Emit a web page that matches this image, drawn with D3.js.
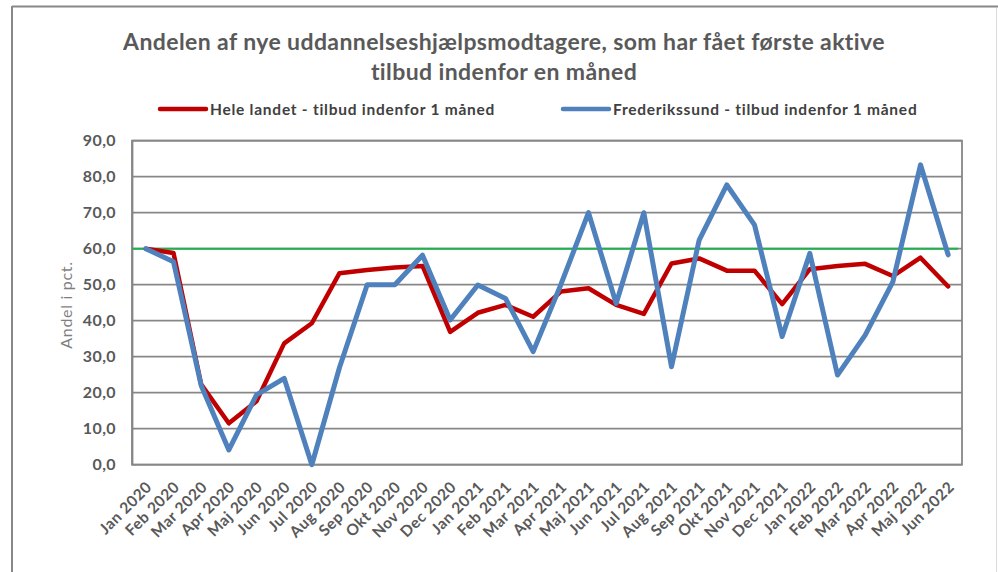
<!DOCTYPE html>
<html>
<head>
<meta charset="utf-8">
<script src="https://cdn.jsdelivr.net/npm/d3@7"></script>
<style>
  html, body { margin: 0; padding: 0; background: #fff; }
  svg { display: block; }
</style>
</head>
<body>
<svg id="chart" width="998" height="572"></svg>
<script>
const categories = ["Jan 2020","Feb 2020","Mar 2020","Apr 2020","Maj 2020","Jun 2020","Jul 2020","Aug 2020","Sep 2020","Okt 2020","Nov 2020","Dec 2020",
  "Jan 2021","Feb 2021","Mar 2021","Apr 2021","Maj 2021","Jun 2021","Jul 2021","Aug 2021","Sep 2021","Okt 2021","Nov 2021","Dec 2021",
  "Jan 2022","Feb 2022","Mar 2022","Apr 2022","Maj 2022","Jun 2022"];
const heleLandet = [60.0, 58.8, 22.3, 11.5, 17.6, 33.7, 39.3, 53.2, 54.1, 54.8, 55.2, 36.9,
  42.2, 44.4, 41.1, 48.1, 49.0, 44.4, 41.9, 55.9, 57.3, 53.9, 53.9, 44.6,
  54.3, 55.2, 55.8, 52.4, 57.5, 49.5];
const frederikssund = [60.0, 56.4, 22.0, 4.1, 19.4, 24.0, 0.0, 27.0, 50.0, 50.0, 58.2, 40.2,
  49.9, 46.2, 31.4, 50.0, 70.0, 44.8, 70.0, 27.2, 62.4, 77.7, 66.6, 35.6,
  58.7, 24.9, 36.0, 50.8, 83.3, 58.3];
const targetValue = 60;
const yTicks = [0, 10, 20, 30, 40, 50, 60, 70, 80, 90];
const titleLines = ["Andelen af nye uddannelseshjælpsmodtagere, som har fået første aktive", "tilbud indenfor en måned"];
const seriesNames = ["Hele landet - tilbud indenfor 1 måned", "Frederikssund - tilbud indenfor 1 måned"];
const yLabel = "Andel i pct.";

(function () {
const svg = d3.select("#chart");
const font = "Lato, 'Open Sans', sans-serif";
const gridColor = "#878787";

// outer frame
svg.append("line").attr("x1", 12).attr("x2", 998).attr("y1", 6.5).attr("y2", 6.5)
  .attr("stroke", "#888").attr("stroke-width", 2);
svg.append("line").attr("x1", 12).attr("x2", 12).attr("y1", 6).attr("y2", 572)
  .attr("stroke", "#888").attr("stroke-width", 2);
svg.append("line").attr("x1", 996.5).attr("x2", 996.5).attr("y1", 8).attr("y2", 572)
  .attr("stroke", "#dcdcdc").attr("stroke-width", 1);

const pLeft = 132, pRight = 962, pTop = 140.7, pBottom = 464.7;

const x = d3.scaleBand().domain(categories).range([pLeft, pRight]).padding(0);
const xc = d => x(d) + x.bandwidth() / 2;
const y = d3.scaleLinear().domain([0, 90]).range([pBottom, pTop]);

// title
const title = svg.append("text").attr("text-anchor", "middle")
  .attr("font-family", font).attr("font-weight", "bold").attr("font-size", 23)
  .attr("letter-spacing", 0.4).attr("fill", "#595959");
title.selectAll("tspan").data(titleLines).join("tspan")
  .attr("x", 504).attr("y", (d, i) => 50 + i * 30).text(d => d);

// legend
const legendItems = [
  { name: seriesNames[0], color: "#c00000", x0: 160 },
  { name: seriesNames[1], color: "#4f81bd", x0: 563 }
];
legendItems.forEach(it => {
  svg.append("line").attr("x1", it.x0).attr("x2", it.x0 + 46).attr("y1", 109).attr("y2", 109)
    .attr("stroke", it.color).attr("stroke-width", 4.5).attr("stroke-linecap", "round");
  svg.append("text").attr("x", it.x0 + 50).attr("y", 114.5)
    .attr("font-family", font).attr("font-weight", "bold").attr("font-size", 15.5)
    .attr("letter-spacing", 0.75).attr("fill", "#404040")
    .text(it.name);
});

// gridlines
svg.append("g").selectAll("line").data(yTicks).join("line")
  .attr("x1", pLeft).attr("x2", pRight)
  .attr("y1", d => y(d)).attr("y2", d => y(d))
  .attr("stroke", gridColor).attr("stroke-width", 1.8);

// y axis
const yAxis = svg.append("g").attr("transform", `translate(${pLeft},0)`)
  .call(d3.axisLeft(y).tickValues(yTicks).tickSize(0).tickPadding(16)
    .tickFormat(d => d3.format(".1f")(d).replace(".", ",")));
yAxis.select(".domain").attr("stroke", gridColor).attr("stroke-width", 1.8);
yAxis.selectAll("text").attr("font-family", font).attr("font-weight", "bold")
  .attr("font-size", 16).attr("letter-spacing", 0.4).attr("fill", "#595959");

// plot border
svg.append("rect").attr("x", pLeft).attr("y", pTop).attr("width", pRight - pLeft).attr("height", pBottom - pTop)
  .attr("fill", "none").attr("stroke", gridColor).attr("stroke-width", 1.8);

// y label
svg.append("text").attr("transform", `translate(72,305) rotate(-90)`)
  .attr("text-anchor", "middle").attr("font-family", font).attr("font-size", 16)
  .attr("letter-spacing", 0.7).attr("fill", "#7f7f7f").text(yLabel);

// x labels
svg.append("g").selectAll("text").data(categories).join("text")
  .attr("transform", d => `translate(${xc(d) + 7},488) rotate(-45)`)
  .attr("text-anchor", "end")
  .attr("font-family", font).attr("font-weight", "bold").attr("font-size", 15.5)
  .attr("letter-spacing", 0.5).attr("fill", "#595959")
  .text(d => d);

// target line
svg.append("line").attr("x1", pLeft).attr("x2", pRight - 4)
  .attr("y1", y(targetValue)).attr("y2", y(targetValue))
  .attr("stroke", "#1fb050").attr("stroke-width", 2);

const line = d3.line().x((d, i) => xc(categories[i])).y(d => y(d));
svg.append("path").datum(heleLandet).attr("d", line)
  .attr("fill", "none").attr("stroke", "#c00000").attr("stroke-width", 4.5)
  .attr("stroke-linejoin", "round").attr("stroke-linecap", "round");
svg.append("path").datum(frederikssund).attr("d", line)
  .attr("fill", "none").attr("stroke", "#4f81bd").attr("stroke-width", 5)
  .attr("stroke-linejoin", "round").attr("stroke-linecap", "round");
})();
</script>
</body>
</html>
